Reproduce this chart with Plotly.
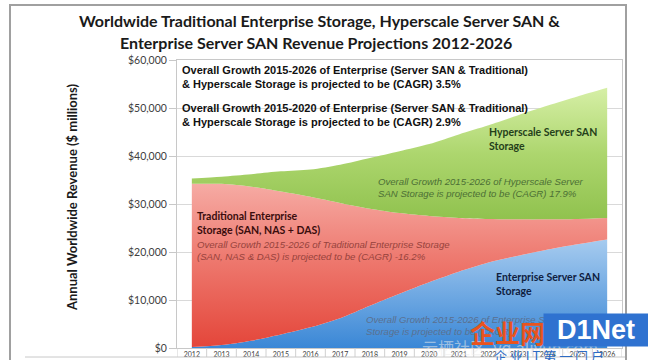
import plotly.graph_objects as go

# ---------------- data ----------------
years = ["2012", "2013", "2014", "2015", "2016", "2017", "2018", "2019",
         "2020", "2021", "2022", "2023", "2024", "2025", "2026"]
# $ millions
enterprise_server_san = [200, 600, 1500, 2800, 4300, 6200, 8800, 11300,
                         13700, 15900, 17800, 19200, 20500, 21600, 22600]
traditional_storage = [34000, 33600, 32100, 29800, 27200, 24000, 20200, 16800,
                       13800, 11200, 9100, 7600, 6300, 5300, 4500]
hyperscale_server_san = [1100, 1500, 2600, 4200, 5700, 8000, 10600, 12900,
                         15000, 17400, 19500, 21700, 23700, 25500, 27100]
y_ticks = [0, 10000, 20000, 30000, 40000, 50000, 60000]
y_tick_labels = ["$0", "$10,000", "$20,000", "$30,000", "$40,000", "$50,000", "$60,000"]

W, H = 648, 360
L, R, T, B = 177, 26, 60, 12
PW, PH = W - L - R, H - T - B


def px(x):
    return (x - L) / PW


def py(y):
    return (H - B - y) / PH


fig = go.Figure()

fig.add_trace(go.Scatter(
    x=years, y=enterprise_server_san, name="Enterprise Server SAN Storage",
    mode="none", stackgroup="s", line=dict(shape="spline", smoothing=0.8),
    fillgradient=dict(type="vertical",
                      colorscale=[[0, "#3A87D6"], [1, "#A6CBEF"]]),
    hoverinfo="x+y"))
fig.add_trace(go.Scatter(
    x=years, y=traditional_storage, name="Traditional Enterprise Storage",
    mode="none", stackgroup="s", line=dict(shape="spline", smoothing=0.8),
    fillgradient=dict(type="vertical",
                      colorscale=[[0, "#E4463A"], [0.55, "#EE7A70"], [1, "#F6ABA4"]]),
    hoverinfo="x+y"))
fig.add_trace(go.Scatter(
    x=years, y=hyperscale_server_san, name="Hyperscale Server SAN Storage",
    mode="none", stackgroup="s", line=dict(shape="spline", smoothing=0.8),
    fillgradient=dict(type="vertical",
                      colorscale=[[0, "#90C24E"], [0.5, "#ADD66E"], [1, "#D6EFA6"]]),
    hoverinfo="x+y"))

GRID = "#D9D9D9"
fig.update_layout(
    width=W, height=H,
    margin=dict(l=L, r=R, t=T, b=B, autoexpand=False),
    paper_bgcolor="white", plot_bgcolor="white",
    showlegend=False,
    font=dict(family="Lato, sans-serif", color="#404040"),
    xaxis=dict(
        type="category", range=[-0.5, 14.5], showgrid=False, automargin=False,
        ticks="", tickfont=dict(size=7, color="#404040", family="Lato"),
        showline=True, linecolor="#C8C8C8", mirror=True, fixedrange=True,
    ),
    yaxis=dict(
        range=[0, 60000], tickvals=y_ticks, ticktext=y_tick_labels, automargin=False,
        showgrid=True, gridcolor=GRID, gridwidth=1,
        ticks="outside", ticklen=7, tickcolor="#C8C8C8",
        tickfont=dict(size=10.5, color="#404040", family="Lato"),
        showline=True, linecolor="#C8C8C8", mirror=True, zeroline=False,
        fixedrange=True,
    ),
)

annotations = []


def ann(text, x, y, size, color, family="Liberation Sans, Arial", weight="normal",
        style="normal", xanchor="left", yanchor="middle", **kw):
    annotations.append(dict(
        text=text, xref="paper", yref="paper", x=px(x), y=py(y),
        xanchor=xanchor, yanchor=yanchor, align="left", showarrow=False,
        font=dict(size=size, color=color, family=family, weight=weight, style=style),
        **kw))


# title
ann("Worldwide Traditional Enterprise Storage, Hyperscale Server SAN &", 319, 20,
    16, "#1a1a1a", family="Lato", weight="bold", xanchor="center")
ann("Enterprise Server SAN Revenue Projections 2012-2026", 316, 42,
    16, "#1a1a1a", family="Lato", weight="bold", xanchor="center")

# y axis title
annotations.append(dict(
    text="Annual Worldwide Revenue ($ millions)", xref="paper", yref="paper",
    x=px(72), y=py(198), textangle=-90, showarrow=False,
    xanchor="center", yanchor="middle",
    font=dict(size=13, color="#1a1a1a", family="Lato", weight="bold")))

# in-chart notes
ann("Overall Growth 2015-2026 of Enterprise (Server SAN & Traditional)<br>"
    "& Hyperscale Storage is projected to be (CAGR) 3.5%", 180, 77, 11, "#111111",
    weight="bold")
ann("Overall Growth 2015-2020 of Enterprise (Server SAN & Traditional)<br>"
    "& Hyperscale Storage is projected to be (CAGR) 2.9%", 180, 114.5, 11, "#111111",
    weight="bold")
ann("Hyperscale Server SAN<br>Storage", 487, 139, 10.5, "#24401a",
    family="Lato", weight="bold")
ann("Overall Growth 2015-2026 of Hyperscale Server<br>"
    "SAN Storage is projected to be (CAGR) 17.9%", 376, 187, 9.6, "#4C6F35",
    style="italic")
ann("Traditional Enterprise<br>Storage (SAN, NAS + DAS)", 195, 223.5, 10.5, "#3a0d0d",
    family="Lato", weight="bold")
ann("Overall Growth 2015-2026 of Traditional Enterprise Storage<br>"
    "(SAN, NAS & DAS) is projected to be (CAGR) -16.2%", 195, 250, 9.6, "#96423C",
    style="italic")
ann("Enterprise Server SAN<br>Storage", 494, 283.5, 10.5, "#0f2040",
    family="Lato", weight="bold")
ann("Overall Growth 2015-2026 of Enterprise Server SAN<br>"
    "Storage is projected to be (CAGR)", 364, 325.5, 9.6, "#5A7090",
    style="italic")

# watermark overlay
ann("云栖社区  yq.aliyun.com", 420, 347, 16, "rgba(235,235,235,0.55)",
    family="Noto Sans CJK SC")
ann("企业网", 468, 332, 25, "#E8541E", family="Noto Sans CJK SC", weight="bold")
annotations.append(dict(
    text="D1Net", xref="paper", yref="paper", x=px(543), y=py(330),
    xanchor="left", yanchor="middle", showarrow=False, bgcolor="#2F72D0",
    width=102, height=30, align="center",
    font=dict(size=27, color="white", family="Liberation Sans, Arial", weight="bold")))
ann("企 业 I T 第 一 门 户", 492, 355, 13, "#2C6BC4", family="Noto Sans CJK SC")

fig.update_layout(annotations=annotations)

# category cell dividers below the axis and frame
shapes = []
for i in range(len(years) + 1):
    shapes.append(dict(type="line", xref="x", yref="paper", x0=i - 0.5, x1=i - 0.5,
                       y0=py(357), y1=0, line=dict(color="#D0D0D0", width=1)))
shapes.append(dict(type="line", xref="paper", yref="paper", x0=px(25), x1=px(626),
                   y0=py(357), y1=py(357), line=dict(color="#C8C8C8", width=1)))
shapes.append(dict(type="rect", xref="paper", yref="paper", x0=px(10), x1=px(626),
                   y0=py(368), y1=py(5), line=dict(color="#A0A0A0", width=2)))
fig.update_layout(shapes=shapes)

fig.write_html("out.html", config={"displayModeBar": False})

# remove the browser's default page margin so the figure sits at the window origin
with open("out.html", "r", encoding="utf-8") as f:
    html = f.read()
html = html.replace("<head>", "<head><style>html,body{margin:0;padding:0;overflow:hidden;}</style>", 1)
with open("out.html", "w", encoding="utf-8") as f:
    f.write(html)
